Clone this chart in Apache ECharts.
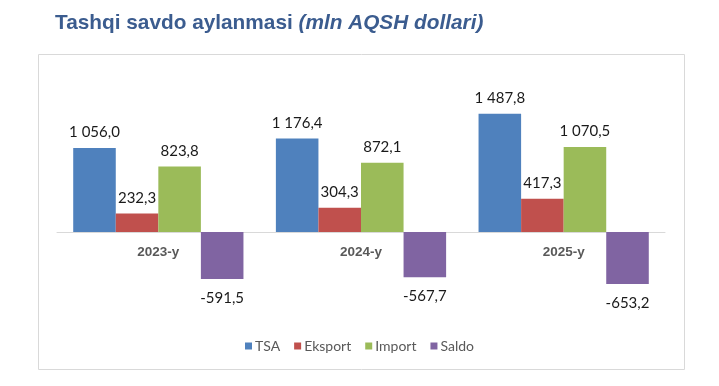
<!DOCTYPE html>
<html><head><meta charset="utf-8">
<script src="https://cdn.jsdelivr.net/npm/echarts@6/dist/echarts.min.js"></script>
<style>html,body{margin:0;padding:0;background:#fff}#c{width:719px;height:386px}</style>
</head><body><div id="c"></div>
<script>
const categories = ['2023-y', '2024-y', '2025-y'];
const seriesNames = ['TSA', 'Eksport', 'Import', 'Saldo'];
const tsa = [1056.0, 1176.4, 1487.8];
const eksport = [232.3, 304.3, 417.3];
const importV = [823.8, 872.1, 1070.5];
const saldo = [-591.5, -567.7, -653.2];
const colors = ['#4f81bd', '#c0504d', '#9bbb59', '#8064a2'];

function fmt(v) {
  const neg = v < 0;
  const s = Math.abs(v).toFixed(1);
  let [i, d] = s.split('.');
  i = i.replace(/\B(?=(\d{3})+(?!\d))/g, ' ');
  return (neg ? '-' : '') + i + ',' + d;
}
const font = 'Lato';
const chart = echarts.init(document.getElementById('c'), null, {renderer: 'canvas'});
const dataSets = [tsa, eksport, importV, saldo];
chart.setOption({
  animation: false,
  title: {
    text: '{b|Tashqi savdo aylanmasi }{i|(mln AQSH dollari)}',
    left: 50, top: 8,
    textStyle: {
      rich: {
        b: {fontFamily: 'Liberation Sans', fontWeight: 'bold', fontSize: 20.8, color: '#3b5c8f'},
        i: {fontFamily: 'Liberation Sans', fontWeight: 'bold', fontStyle: 'italic', fontSize: 20.8, color: '#3b5c8f'}
      }
    }
  },
  graphic: [{
    type: 'rect', shape: {x: 38.5, y: 54.5, width: 646, height: 315},
    style: {fill: 'none', stroke: '#d9d9d9', lineWidth: 1}, z: -1
  }],
  legend: {
    data: seriesNames, bottom: 28, left: 'center',
    itemWidth: 7, itemHeight: 7, itemGap: 14, icon: 'rect',
    textStyle: {fontFamily: font, fontSize: 14, color: '#595959', padding: [0, 0, 0, -2]}
  },
  grid: {left: 57, right: 54, top: 73, bottom: 74.5, containLabel: false},
  xAxis: {
    type: 'category', data: categories,
    axisLine: {onZero: true, lineStyle: {color: '#d9d9d9'}},
    axisTick: {show: false},
    axisLabel: {fontFamily: 'Liberation Sans', fontWeight: 'bold', fontSize: 13.5, color: '#595959', margin: -66}
  },
  yAxis: {
    type: 'value', min: -1000, max: 2000,
    axisLine: {show: false}, axisTick: {show: false}, axisLabel: {show: false},
    splitLine: {show: false}
  },
  series: seriesNames.map((n, k) => ({
    name: n, type: 'bar', data: dataSets[k],
    barGap: '0%', barCategoryGap: '16%',
    itemStyle: {color: colors[k]},
    label: {
      show: true, position: k === 3 ? 'bottom' : 'top', distance: k === 3 ? 12 : 8,
      fontFamily: font, fontSize: 15, color: '#1a1a1a',
      formatter: p => fmt(p.value)
    }
  }))
});
</script></body></html>
